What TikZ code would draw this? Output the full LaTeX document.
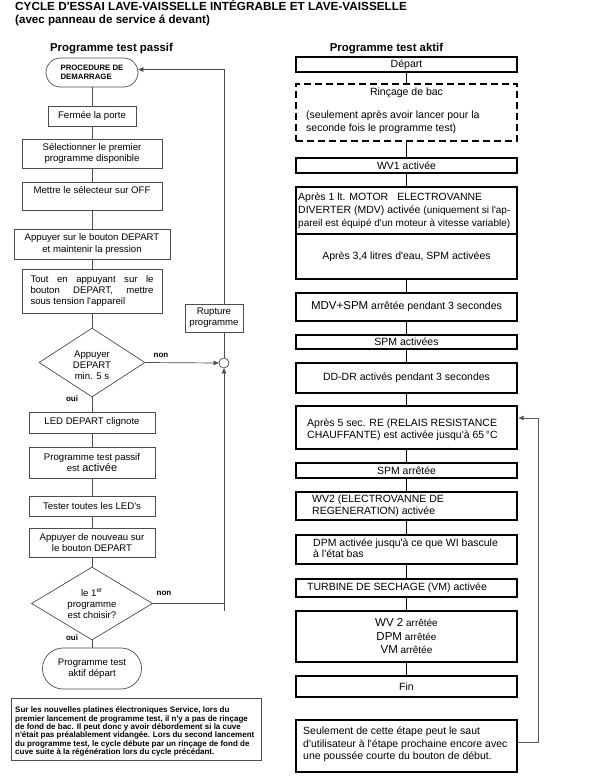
\documentclass[tikz,border=0pt]{standalone}
\usepackage{fontspec}
\setmainfont[Ligatures=TeXOff]{Liberation Sans}
\usetikzlibrary{shapes.geometric,arrows.meta}
\newcommand\lsz{\fontsize{9.6}{11.2}\selectfont}
\newcommand\rsz{\fontsize{10.5}{13}\selectfont}
\newcommand\rsm{\fontsize{10}{12.5}\selectfont}
\newcommand\rbg{\fontsize{11.5}{13}\selectfont}
\newcommand\lbg{\fontsize{11}{12}\selectfont}
\begin{document}
\begin{tikzpicture}[x=1pt,y=-1pt,
  lbox/.style={draw=black!70, line width=0.7pt, fill=white, inner sep=0pt, align=center, font=\lsz},
  lterm/.style={lbox, rounded corners=#1},
  ldia/.style={draw=black!70, line width=0.7pt, fill=white, diamond, inner sep=0pt},
  ltxt/.style={inner sep=0pt, align=center, font=\lsz},
  lline/.style={draw=black!70, line width=0.7pt},
  rbox/.style={draw=black, line width=1.6pt, fill=white, inner sep=0pt, align=center, font=\rsz, minimum width=221pt},
  rtxt/.style={inner sep=0pt, align=left, anchor=west, font=\rsz},
  rline/.style={draw=black, line width=1.6pt},
  fline/.style={draw=black!65, line width=0.7pt},
  tip/.style={-{Triangle[length=5pt,width=4.5pt]}},
  lbl/.style={inner sep=0pt, font=\bfseries\fontsize{8}{9}\selectfont},
  head/.style={anchor=base, inner sep=0pt, font=\bfseries\fontsize{11.4}{13}\selectfont},
  ttl/.style={anchor=base west, inner sep=0pt, font=\bfseries\fontsize{11.75}{13}\selectfont}
]
\useasboundingbox (0,0) rectangle (603,781);
\fill[white] (0,0) rectangle (603,781);

% titles
\node[ttl] (title) at (15,10.7) {CYCLE D'ESSAI LAVE-VAISSELLE INTÉGRABLE ET LAVE-VAISSELLE};
\node[ttl, font=\bfseries\fontsize{11.6}{13}\selectfont] (subtitle) at (15,23.8) {(avec panneau de service á devant)};
\node[head] (hpass) at (111.5,52) {Programme test passif};
\node[head] (hakt) at (386.5,52) {Programme test aktif};

% ---------------- left column ----------------
\node[lterm=14.5pt, minimum width=92pt, minimum height=29pt, align=left,
      font=\bfseries\fontsize{7.8}{9.5}\selectfont] (term1) at (92,72.5) {PROCEDURE DE\\DEMARRAGE};
\node[lbox, minimum width=88pt, minimum height=20pt] (porte) at (92,116) {Fermée la porte};
\node[lbox, minimum width=140pt, minimum height=29pt] (select) at (92,153.5) {Sélectionner le premier\\programme disponible};
\node[lbox, minimum width=140pt, minimum height=28pt] (off) at (92,196) {Mettre le sélecteur sur OFF\\ \mbox{}};
\node[lbox, minimum width=156pt, minimum height=30pt] (maint) at (92,244) {Appuyer sur le bouton DEPART\\et maintenir la pression};
\node[lbox, minimum width=140pt, minimum height=44pt, align=left] (tout) at (92,291)
  {\makebox[123pt][s]{Tout en appuyant sur le}\\\makebox[123pt][s]{bouton DEPART, mettre}\\sous tension l'appareil};
\node[ldia, minimum width=106pt, minimum height=69pt] (d1) at (92,362.5) {};
\node[ltxt] (d1t) at (92,365) {Appuyer\\DEPART\\min. 5 s};
\node[lbox, minimum width=126pt, minimum height=21pt] (led) at (92,422.5) {LED DEPART clignote};
\node[lbox, minimum width=126pt, minimum height=31pt] (passif) at (92,462.5) {Programme test passif\\est {\lbg activée}};
\node[lbox, minimum width=126pt, minimum height=20pt] (tester) at (92,506) {Tester toutes les LED's};
\node[lbox, minimum width=126pt, minimum height=29pt] (nouveau) at (92,542.5) {Appuyer de nouveau sur\\le bouton DEPART};
\node[ldia, minimum width=121pt, minimum height=73pt] (d2) at (92,603.5) {};
\node[ltxt] (d2t) at (92,604) {le 1\textsuperscript{er}\\programme\\est choisir?};
\node[lterm=20.5pt, minimum width=99pt, minimum height=41pt] (term2) at (92,668.5) {Programme test\\aktif départ};
\node[draw=black!70, line width=0.7pt, fill=white, circle, minimum size=10pt, inner sep=0pt] (c) at (224,363) {};
\coordinate (jb) at (224,611);

\draw[lline] (term1.south) -- (porte.north);
\draw[lline] (porte.south) -- (select.north);
\draw[lline] (select.south) -- (off.north);
\draw[lline] (off.south) -- (maint.north);
\draw[lline] (maint.south) -- (tout.north);
\draw[lline] (tout.south) -- (d1.north);
\draw[lline] (d1.south) -- (led.north);
\draw[lline] (led.south) -- (passif.north);
\draw[lline] (passif.south) -- (tester.north);
\draw[lline] (tester.south) -- (nouveau.north);
\draw[lline] (nouveau.south) -- (d2.north);
\draw[lline] (d2.south) -- (term2.north);
\draw[lline, tip] (d1.east) -- (c.west);
\draw[lline] (d2.east) -- (d2.east -| c);
\draw[lline, tip] (jb) -- (c.south);
\draw[lline, tip] (c.north) |- ([yshift=3pt]term1.east);

\node[lbox, minimum width=58pt, minimum height=28pt] (rupture) at (214,318) {Rupture\\programme};

\node[lbl] (non1) at (161,355) {non};
\node[lbl] (oui1) at (72,399) {oui};
\node[lbl] (non2) at (164,593.5) {non};
\node[lbl] (oui2) at (72,638) {oui};

\node[draw=black!70, line width=0.7pt, minimum width=250pt, minimum height=62pt, inner sep=0pt] (lnote) at (136,729) {};
\node[inner sep=0pt, anchor=west, align=left, font=\bfseries\fontsize{8}{8.33}\selectfont] (lnotet) at (15,731.5)
 {Sur les nouvelles platines électroniques Service, lors du\\
  premier lancement de programme test, il n'y a pas de rinçage\\
  de fond de bac. Il peut donc y avoir débordement si la cuve\\
  n'était pas préalablement vidangée. Lors du second lancement\\
  du programme test, le cycle débute par un rinçage de fond de\\
  cuve suite à la régénération lors du cycle précédant.};

% ---------------- right column ----------------
\node[rbox, minimum height=15pt] (depart) at (406.5,64.5) {Départ};
\node[rbox, minimum height=57pt, dash pattern=on 7pt off 4pt] (rinc) at (406.5,112.5) {};
\node[inner sep=0pt, font=\rsz] (rinc1) at (406.5,93) {Rinçage de bac};
\node[rtxt] (rinc2) at (306,122.5) {(seulement après avoir lancer pour la\\seconde fois le programme test)};
\node[rbox, minimum height=15pt] (wv1) at (406.5,165.5) {WV1 activée};
\node[rbox, minimum height=47pt] (mdv) at (406.5,210.5) {};
\node[rtxt] (mdvt) at (298,210.5)
 {Après 1 lt. MOTOR\hspace{9pt}ELECTROVANNE\\
  DIVERTER (MDV) activée {\rsm (uniquement si l'ap-}\\
  {\rsm pareil est équipé d'un moteur à vitesse variable)}};
\node[rbox, minimum height=45pt] (l34) at (406.5,256.5) {Après 3,4 litres d'eau, SPM activées};
\node[rbox, minimum height=28pt] (mdvspm) at (406.5,307) {{\rbg MDV+SPM} arrêtée pendant 3 secondes};
\node[rbox, minimum height=14pt] (spm) at (406.5,342) {SPM activées};
\node[rbox, minimum height=30pt] (dd) at (406.5,378) {DD-DR activés pendant 3 secondes};
\node[rbox, minimum height=43pt] (re) at (406.5,427.5) {};
\node[rtxt, font=\fontsize{10.5}{12}\selectfont] (ret) at (307,430) {Après 5 sec. RE (RELAIS RESISTANCE\\CHAUFFANTE) est activée jusqu'à 65\,°C};
\node[rbox, minimum height=15pt] (spmarr) at (406.5,470.5) {SPM arrêtée};
\node[rbox, minimum height=28pt] (wv2) at (406.5,506) {};
\node[rtxt, font=\fontsize{10.5}{12}\selectfont] (wv2t) at (312,506) {WV2 (ELECTROVANNE DE\\REGENERATION) activée};
\node[rbox, minimum height=29pt] (dpm) at (406.5,549.5) {};
\node[rtxt, font=\fontsize{10.5}{11.5}\selectfont] (dpmt) at (313,548) {DPM activée jusqu'à ce que WI bascule\\à l'état bas};
\node[rbox, minimum height=18pt] (turb) at (406.5,588) {};
\node[rtxt] (turbt) at (307,588) {TURBINE DE SECHAGE (VM) activée};
\node[rbox, minimum height=51pt, font=\fontsize{10}{13.5}\selectfont] (stop) at (406.5,636.5)
 {{\rbg WV 2} arrêtée\\{\rbg DPM} arrêtée\\{\rbg VM} arrêtée};
\node[rbox, minimum height=21pt] (fin) at (406.5,686.5) {Fin};
\node[rbox, minimum height=52pt] (rnote) at (406.5,746) {};
\node[rtxt, font=\fontsize{10.5}{12.5}\selectfont] (rnotet) at (303,744.5)
 {Seulement de cette étape peut le saut\\d'utilisateur à l'étape prochaine encore avec\\une poussée courte du bouton de début.};

\draw[rline] (depart.south) -- (rinc.north);
\draw[rline] (rinc.south) -- (wv1.north);
\draw[rline] (wv1.south) -- (mdv.north);
\draw[rline] (l34.south) -- (mdvspm.north);
\draw[rline] (mdvspm.south) -- (spm.north);
\draw[rline] (spm.south) -- (dd.north);
\draw[rline] (dd.south) -- (re.north);
\draw[rline] (re.south) -- (spmarr.north);
\draw[rline] (spmarr.south) -- (wv2.north);
\draw[rline] (wv2.south) -- (dpm.north);
\draw[rline] (dpm.south) -- (turb.north);
\draw[rline] (turb.south) -- (stop.north);
\draw[rline] (stop.south) -- (fin.north);
\draw[fline, tip] ([yshift=4pt]rnote.east) -- ++(21,0) |- ([yshift=9.5pt,xshift=0.8pt]re.east);
\end{tikzpicture}
\end{document}
